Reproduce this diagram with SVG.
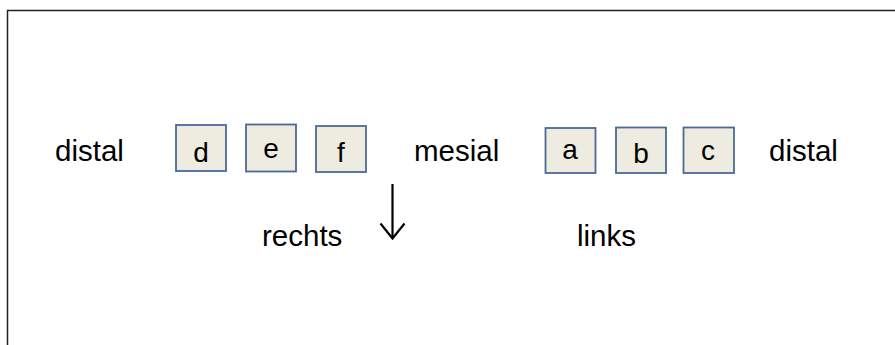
<svg xmlns="http://www.w3.org/2000/svg" width="895" height="345" viewBox="0 0 895 345">
<style>
.box{fill:#EEECE1;stroke:#4A6A9A;stroke-width:1.8}
.lbl{font-family:"Liberation Sans",Arial,sans-serif;font-size:29.5px;fill:#000}
.bl{font-family:"Liberation Sans",Arial,sans-serif;font-size:28px;fill:#000;text-anchor:middle}
</style>
<rect x="0" y="0" width="895" height="345" fill="#fff"/>
<path d="M7.5 345 V10.5 H895" fill="none" stroke="#222" stroke-width="1.5"/>
<g id="label-distal-left"><text class="lbl" x="55" y="161">distal</text></g>
<g id="node-d"><rect class="box" x="176" y="125" width="50" height="46"/><text class="bl" x="201" y="162">d</text></g>
<g id="node-e"><rect class="box" x="246" y="124.5" width="50" height="47"/><text class="bl" x="271" y="158">e</text></g>
<g id="node-f"><rect class="box" x="316" y="126" width="50" height="46"/><text class="bl" x="341" y="162">f</text></g>
<g id="label-mesial"><text class="lbl" x="414" y="161">mesial</text></g>
<g id="node-a"><rect class="box" x="545.5" y="128" width="50" height="45"/><text class="bl" x="570" y="159">a</text></g>
<g id="node-b"><rect class="box" x="616" y="127.5" width="50" height="45.5"/><text class="bl" x="641" y="163">b</text></g>
<g id="node-c"><rect class="box" x="683.5" y="127.5" width="50.5" height="45.5"/><text class="bl" x="708" y="160">c</text></g>
<g id="label-distal-right"><text class="lbl" x="769" y="161">distal</text></g>
<g id="label-rechts"><text class="lbl" x="262" y="246">rechts</text></g>
<g id="label-links"><text class="lbl" x="577" y="246">links</text></g>
<g id="connectors">
<line x1="392.5" y1="184" x2="392.5" y2="238" stroke="#000" stroke-width="2.2"/>
<path d="M380.5 223.5 L392.5 238.5 L404.5 223.5" fill="none" stroke="#000" stroke-width="2.2"/>
</g>
</svg>
